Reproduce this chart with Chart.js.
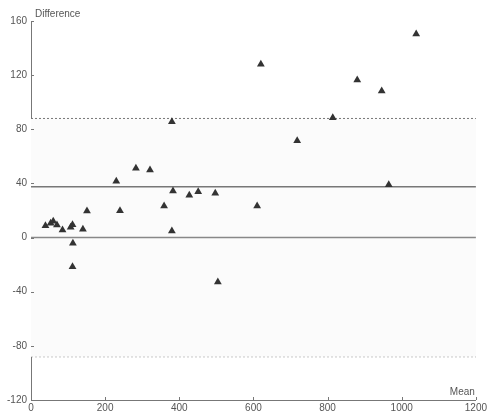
<!DOCTYPE html>
<html>
<head>
<meta charset="utf-8">
<script src="https://cdn.jsdelivr.net/npm/chart.js@4.4.0/dist/chart.umd.min.js"></script>
<style>
  html, body { margin: 0; padding: 0; background: #fff; }
  #wrap { width: 489px; height: 412px; }
</style>
</head>
<body>
<div id="wrap"><canvas id="chart" width="489" height="412"></canvas></div>
<script>
// Bland-Altman style data
const means = [39, 53, 60, 70, 85, 107, 112, 113, 112, 140, 151, 230, 240, 283, 321,
               359, 383, 380, 380, 427, 451, 497, 504, 610, 620, 718, 814, 880, 946, 965, 1039];
const diffs = [8.8, 10.6, 12, 9.3, 5.6, 7.6, 9.5, -4.2, -21.5, 6.1, 19.6, 41.6, 19.9, 51.2, 50,
               23.3, 34.4, 4.9, 85.6, 31.2, 33.9, 32.7, -32.8, 23.3, 128, 71.6, 88.6, 116.4, 108.3, 39, 150.4];
const meanDiff = 37.5;
const upperLimit = 88;
const lowerLimit = -88;
const xTicks = [0, 200, 400, 600, 800, 1000, 1200];
const yTicks = [-120, -80, -40, 0, 40, 80, 120, 160];

const axisColor = '#777';
const textColor = '#555';

function hline(v) {
    return [{ x: 0, y: v }, { x: 1200, y: v }];
}

// axis names and inward tick marks
const extras = {
    id: 'extras',
    afterDraw(chart) {
        const ctx = chart.ctx;
        const xs = chart.scales.x, ys = chart.scales.y;
        const area = chart.chartArea;
        ctx.save();
        ctx.strokeStyle = axisColor;
        ctx.lineWidth = 1;
        ctx.beginPath();
        yTicks.forEach(v => {
            const py = Math.round(ys.getPixelForValue(v)) + 0.5;
            ctx.moveTo(area.left, py);
            ctx.lineTo(area.left + 3, py);
        });
        xTicks.forEach(v => {
            const px = Math.round(xs.getPixelForValue(v)) + 0.5;
            ctx.moveTo(px, area.bottom);
            ctx.lineTo(px, area.bottom - 3);
        });
        ctx.stroke();

        ctx.fillStyle = textColor;
        ctx.font = '10px "Liberation Sans", Arial, sans-serif';
        ctx.textBaseline = 'middle';
        ctx.textAlign = 'left';
        ctx.fillText('Difference', area.left + 4, 14);
        ctx.textAlign = 'right';
        ctx.fillText('Mean', area.right - 1, 392);
        ctx.restore();
    }
};

new Chart(document.getElementById('chart'), {
    type: 'scatter',
    data: {
        datasets: [{
            label: 'Upper limit',
            type: 'line',
            data: hline(upperLimit),
            borderColor: axisColor,
            borderWidth: 1,
            borderDash: [2, 2],
            pointRadius: 0,
            fill: 1,
            backgroundColor: '#fbfbfb',
            order: 3
        }, {
            label: 'Lower limit',
            type: 'line',
            data: hline(lowerLimit),
            borderColor: axisColor,
            borderWidth: 1,
            borderDash: [2, 2],
            pointRadius: 0,
            fill: false,
            order: 3
        }, {
            label: 'Zero',
            type: 'line',
            data: hline(0),
            borderColor: '#888',
            borderWidth: 1.5,
            pointRadius: 0,
            fill: false,
            order: 2
        }, {
            label: 'Mean difference',
            type: 'line',
            data: hline(meanDiff),
            borderColor: '#777',
            borderWidth: 1.5,
            pointRadius: 0,
            fill: false,
            order: 2
        }, {
            label: 'Points',
            data: means.map((m, i) => ({ x: m, y: diffs[i] })),
            pointStyle: 'triangle',
            pointRadius: 4.5,
            backgroundColor: '#333',
            borderColor: '#333',
            borderWidth: 0,
            order: 1
        }]
    },
    options: {
        responsive: false,
        animation: false,
        layout: { padding: { left: 0, right: 0, top: 21, bottom: 0 } },
        plugins: {
            legend: { display: false },
            tooltip: { enabled: false }
        },
        scales: {
            x: {
                type: 'linear',
                min: 0,
                max: 1200,
                afterBuildTicks: s => { s.ticks = xTicks.map(v => ({ value: v })); },
                afterFit: s => { s.height = 12; },
                grid: { drawOnChartArea: false, drawTicks: false },
                border: { color: axisColor, width: 1 },
                ticks: {
                    padding: 2,
                    color: textColor,
                    font: { family: '"Liberation Sans", Arial, sans-serif', size: 10 },
                    maxRotation: 0,
                    callback: v => String(v)
                }
            },
            y: {
                type: 'linear',
                min: -120,
                max: 160,
                afterBuildTicks: s => { s.ticks = yTicks.map(v => ({ value: v })); },
                afterFit: s => { s.width = 31; },
                grid: { drawOnChartArea: false, drawTicks: false },
                border: { color: axisColor, width: 1 },
                ticks: {
                    padding: 4,
                    color: textColor,
                    font: { family: '"Liberation Sans", Arial, sans-serif', size: 10 }
                }
            }
        }
    },
    plugins: [extras]
});
</script>
</body>
</html>
